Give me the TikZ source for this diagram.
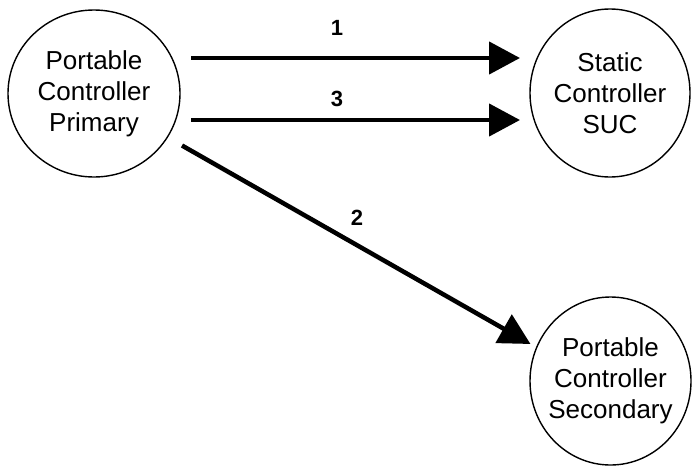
\documentclass[tikz,border=0pt]{standalone}
\usepackage{fontspec}
\setmainfont{Liberation Sans}
\usetikzlibrary{arrows.meta,calc,shapes.geometric}
\begin{document}
\begin{tikzpicture}[x=1pt,y=-1pt,
  dev/.style={draw=black,line width=1.4pt,ellipse,inner sep=-40pt,align=center,
    font=\fontsize{26}{31}\selectfont},
  arr/.style={line width=4.5pt,-{Triangle[length=31pt,width=32pt]}},
  lbl/.style={font=\fontsize{22}{25}\selectfont\bfseries,inner sep=0pt}]
\useasboundingbox (0,0) rectangle (692,466);
\node[dev,minimum width=172pt,minimum height=167pt] (P) at (94,93.5) {Portable\\Controller\\Primary};
\node[dev,minimum width=160pt,minimum height=168pt] (S) at (610,93) {Static\\Controller\\SUC};
\node[dev,minimum width=161pt,minimum height=168pt] (B) at (610.5,381) {Portable\\Controller\\Secondary};
\draw[arr] ($(P.center)+(97,-35.5)$) -- ($(S.center)+(-90,-35)$);
\draw[arr] ($(P.center)+(97,26.5)$) -- ($(S.center)+(-90,27)$);
\draw[arr] ($(P.center)+(88,52)$) -- ($(B.center)+(-80,-37)$);
\node[lbl] (l1) at (337,28) {1};
\node[lbl] (l3) at (337,99) {3};
\node[lbl] (l2) at (357,218) {2};
\end{tikzpicture}
\end{document}
